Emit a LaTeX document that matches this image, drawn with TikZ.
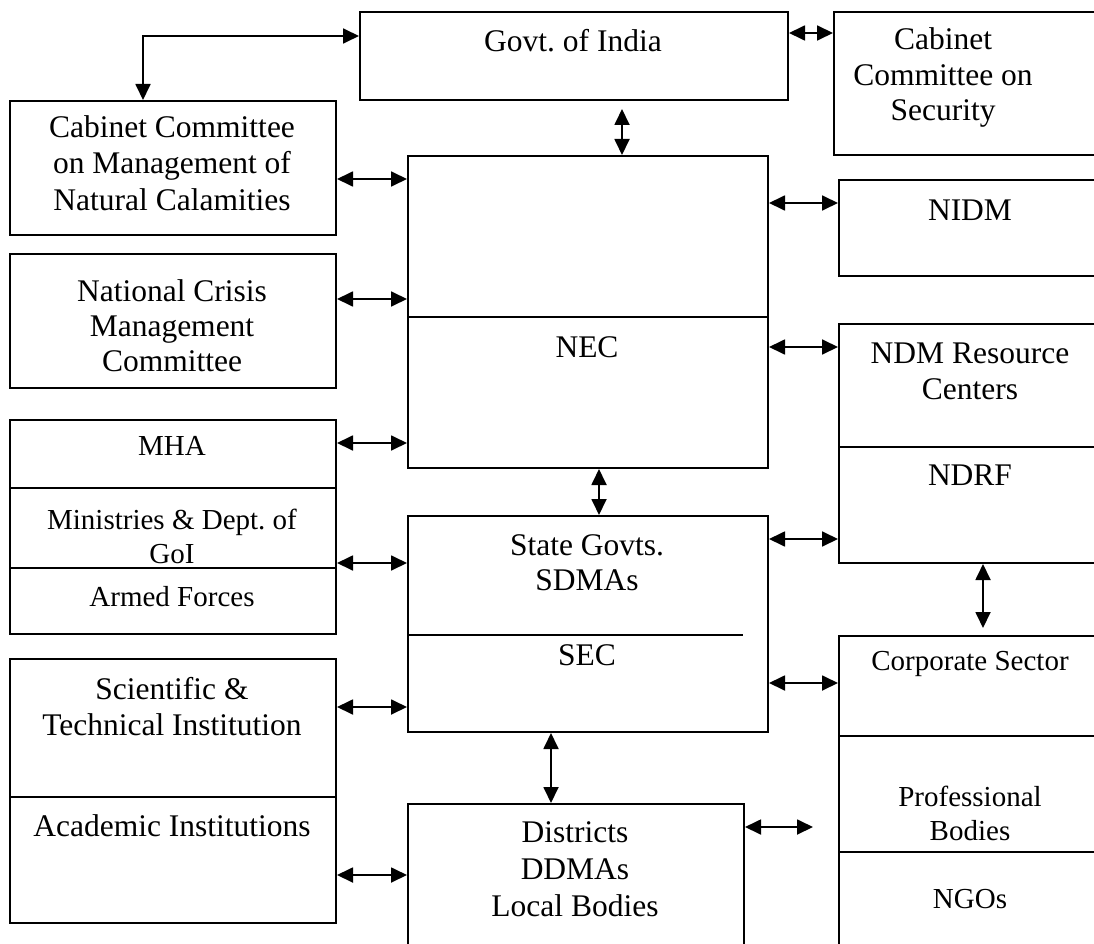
\documentclass[tikz,border=0pt]{standalone}
\usepackage{fontspec}
\setmainfont{Liberation Serif}
\usetikzlibrary{arrows.meta}

\tikzset{
  box/.style={draw, line width=2pt, inner sep=0pt, anchor=north west},
  % anchor=base sits on the last line of a label
  lbl/.style={font=\fontsize{31.5}{#1}\selectfont, align=center, anchor=base, inner sep=0pt},
  lbl/.default=36,
  lblsmall/.style={font=\fontsize{29}{#1}\selectfont, align=center, anchor=base, inner sep=0pt},
  lblsmall/.default=35,
  link/.style={line width=1.8pt, {Triangle[length=16pt,width=15pt]}-{Triangle[length=16pt,width=15pt]}},
  divider/.style={line width=1.6pt}
}

\begin{document}
\begin{tikzpicture}[x=1pt,y=-1pt]
  % Fixed page size
  \useasboundingbox (0,0) rectangle (1094,944);
  \clip (0,0) rectangle (1094,944);

  % Centre column
  \node[box, minimum width=428, minimum height=88]  (govt)      at (359,11)  {};
  \node[box, minimum width=360, minimum height=312] (nec)       at (407,155) {};
  \node[box, minimum width=360, minimum height=216] (state)     at (407,515) {};
  \node[box, minimum width=336, minimum height=160] (districts) at (407,803) {};

  % Left column
  \node[box, minimum width=326, minimum height=134] (ccmnc)  at (9,100) {};
  \node[box, minimum width=326, minimum height=134] (ncmc)   at (9,253) {};
  \node[box, minimum width=326, minimum height=214] (mha)    at (9,419) {};
  \node[box, minimum width=326, minimum height=264] (scient) at (9,658) {};

  % Right column (runs off the page)
  \node[box, minimum width=270, minimum height=143] (ccs)  at (833,11)  {};
  \node[box, minimum width=270, minimum height=96]  (nidm) at (838,179) {};
  \node[box, minimum width=270, minimum height=239] (ndm)  at (838,323) {};
  \node[box, minimum width=270, minimum height=330] (corp) at (838,635) {};

  % Dividers inside boxes
  \foreach \l/\r/\y in {9/335/488, 9/335/568, 9/335/797, 407/767/317,
                        407/743/635, 838/1100/447, 838/1100/736, 838/1100/852}
    \draw[divider] (\l,\y) -- (\r,\y);

  % Labels
  \node[lbl] (govtlbl) at (573,51.7) {Govt.\ of India};
  \node[lbl=35.5] (ccslbl) at (943,121) {Cabinet\\Committee on\\Security};
  \node[lbl] (ccmnclbl) at (172,210) {Cabinet Committee\\on Management of\\Natural Calamities};
  \node[lbl=35] (ncmclbl) at (172,371.7) {National Crisis\\Management\\Committee};
  \node[lbl] (neclbl) at (587,357.3) {NEC};
  \node[lbl] (nidmlbl) at (970,220) {NIDM};
  \node[lbl=36.5] (ndmlbl) at (970,399.8) {NDM Resource\\Centers};
  \node[lbl] (ndrflbl) at (970,485) {NDRF};
  \node[lblsmall] (mhalbl) at (172,455) {MHA};
  \node[lblsmall=34] (minlbl) at (172,563.5) {Ministries \& Dept.\ of\\GoI};
  \node[lblsmall] (armedlbl) at (172,606.7) {Armed Forces};
  \node[lbl=35] (statelbl) at (587,590) {State Govts.\\SDMAs};
  \node[lbl] (seclbl) at (587,665) {SEC};
  \node[lbl] (scientlbl) at (172,735) {Scientific \&\\Technical Institution};
  \node[lbl] (acadlbl) at (172,836.7) {Academic Institutions};
  \node[lbl=37] (distlbl) at (575,916.7) {Districts\\DDMAs\\Local Bodies};
  \node[lblsmall] (corplbl) at (970,670) {Corporate Sector};
  \node[lblsmall=33.5] (proflbl) at (970,840.2) {Professional\\Bodies};
  \node[lblsmall] (ngolbl) at (970,908) {NGOs};

  % Horizontal links, left side
  \foreach \a/\b/\y in {ccmnc/nec/179, ncmc/nec/299, mha/nec/443,
                        mha/state/563, scient/state/707, scient/districts/875}
    \draw[link] (\a.east |- 0,\y) -- (\b.west |- 0,\y);

  % Horizontal links, right side
  \foreach \a/\b/\y in {govt/ccs/33, nec/nidm/203, nec/ndm/347,
                        state/ndm/539, state/corp/683}
    \draw[link] (\a.east |- 0,\y) -- (\b.west |- 0,\y);

  % Districts link with a free end
  \coordinate (distend) at (813,827);
  \draw[link] (districts.east |- distend) -- (distend);

  % Vertical links
  \draw[link, shorten <=8pt] (govt.south -| 622,0) -- (nec.north -| 622,0);
  \draw[link] (nec.south -| 599,0) -- (state.north -| 599,0);
  \draw[link] (state.south -| 551,0) -- (districts.north -| 551,0);
  \draw[link, shorten >=7pt] (ndm.south -| 983,0) -- (corp.north -| 983,0);

  % Govt. of India to the cabinet committee
  \draw[link] (govt.west |- 0,36) -| (ccmnc.north -| 143,0);
\end{tikzpicture}
\end{document}
